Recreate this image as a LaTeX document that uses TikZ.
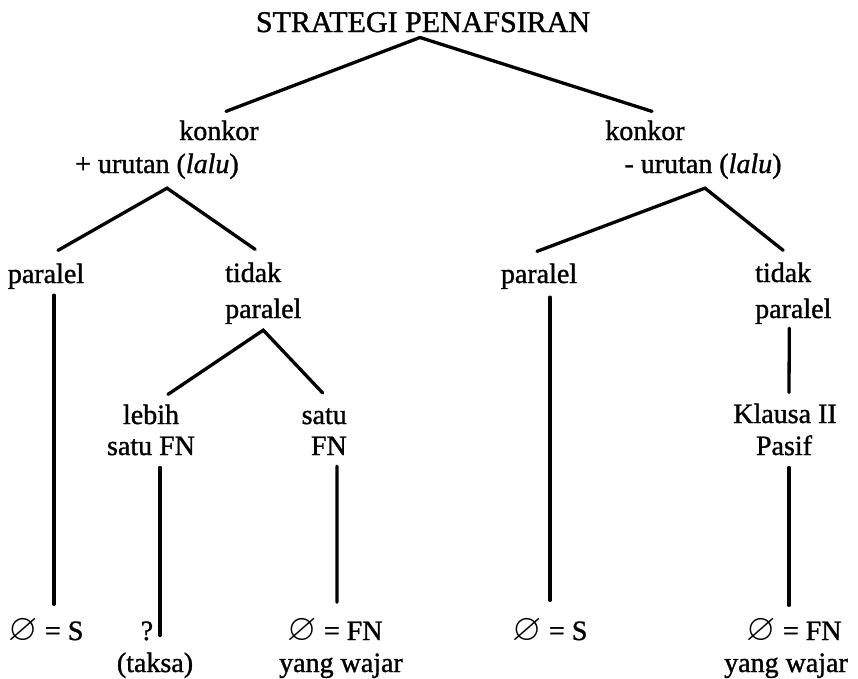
\documentclass[tikz,border=0pt]{standalone}
\usepackage{fontspec}
\usepackage{amssymb}
\usepackage{graphicx}
\setmainfont{Liberation Serif}[FakeBold=1.2]
\usetikzlibrary{calc}
% slashed-circle sign used in the leaf labels
\newcommand{\nullsign}{\raisebox{-0.5pt}{\scalebox{1.35}{$\varnothing$}}}
\begin{document}
\begin{tikzpicture}[x=1pt,y=-1pt,
  lbl/.style={inner sep=0pt, anchor=base, font=\fontsize{28}{34}\selectfont},
  branch/.style={line width=3.3pt, line cap=round}]
\useasboundingbox (0,0) rectangle (858,678);

% labels
\node[lbl, font=\fontsize{30}{34}\selectfont] (root) at (423,32) {STRATEGI PENAFSIRAN};
\node[lbl] (kL) at (219,140) {konkor};
\node[lbl] (uL) at (157,173) {+ urutan (\textit{lalu})};
\node[lbl] (kR) at (645,140) {konkor};
\node[lbl] (uR) at (703,173) {- urutan (\textit{lalu})};
\node[lbl] (pL) at (46,283) {paralel};
\node[lbl, anchor=base west] (tL) at (225,282) {tidak};
\node[lbl, anchor=base west] (tpL) at (225,318) {paralel};
\node[lbl] (pM) at (539,283) {paralel};
\node[lbl, anchor=base west] (tR) at (755,282) {tidak};
\node[lbl, anchor=base west] (tpR) at (755,318) {paralel};
\node[lbl] (lb) at (151,424) {lebih};
\node[lbl] (sf) at (151,455) {satu FN};
\node[lbl, anchor=base east] (st) at (347,424) {satu};
\node[lbl, anchor=base east] (fn) at (347,455) {FN};
\node[lbl] (kl) at (785,423) {Klausa II};
\node[lbl] (ps) at (784,455) {Pasif};
\node[lbl] (eL) at (46,640) {\nullsign{} = S};
\node[lbl] (q) at (147,640) {?};
\node[lbl] (tk) at (155,672) {(taksa)};
\node[lbl] (eM) at (335,640) {\nullsign{} = FN};
\node[lbl] (ywM) at (341,672) {yang wajar};
\node[lbl] (eR) at (550,640) {\nullsign{} = S};
\node[lbl] (eR2) at (794,640) {\nullsign{} = FN};
\node[lbl] (ywR) at (786,672) {yang wajar};

% branches
\draw[branch] ($(kL.north)+(7,-9)$) -- ($(root.south)+(-3,5)$) -- ($(kR.north)+(7,-9)$);
\draw[branch] ($(pL.north)+(12,-13)$) -- ($(uL.south)+(10,9)$) -- ($(tL.north)+(2,-13)$);
\draw[branch] ($(pM.north)+(-2,-12)$) -- ($(uR.south)+(2,9)$) -- ($(tR.north)+(0,-12)$);
\draw[branch] ($(lb.north)+(17,-10)$) -- ($(tpL.south)+(0,6)$) -- ($(st.north)+(-1.5,-15)$);

% stems
\draw[branch] ($(pL.south)+(8,6)$) -- ($(eL.north)+(8,-14)$);
\draw[branch] ($(sf.south)+(9,12)$) -- ($(tk.north)+(5,-17)$);
\draw[branch] ($(fn.south)+(8,11)$) -- ($(eM.north)+(2,-16)$);
\draw[branch] ($(pM.south)+(11,8)$) -- ($(eR.north)+(0,-18)$);
\draw[branch] ($(tpR.south)+(-4,4)$) -- ($(kl.north)+(4,-11)$);
\draw[branch] ($(ps.south)+(5,12)$) -- ($(eR2.north)+(-5,-13)$);
\end{tikzpicture}
\end{document}
